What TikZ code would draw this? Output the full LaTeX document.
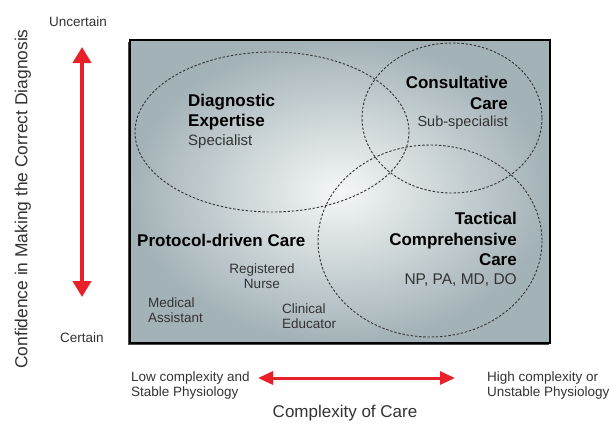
\documentclass[tikz,border=0pt]{standalone}
\usepackage{fontspec}
\setmainfont{Liberation Sans}
\usetikzlibrary{arrows.meta}
\definecolor{axisred}{HTML}{E8202A}
\definecolor{panelout}{HTML}{A3B2B7}
\definecolor{panelin}{HTML}{F4F7F7}
\definecolor{txtgray}{HTML}{333333}
\tikzset{
  zone/.style={draw=black!80, dashed, dash pattern=on 2.4pt off 1.8pt, line width=0.9pt},
  head/.style={font=\fontsize{17}{20.5}\selectfont\bfseries, align=left, inner sep=0pt},
  role/.style={font=\fontsize{13.5}{15}\selectfont, text=txtgray, align=left, inner sep=0pt},
  axis/.style={font=\fontsize{13.5}{15}\selectfont, text=txtgray, align=left, inner sep=0pt},
  redarrow/.style={{Triangle[length=16pt,width=18pt]}-{Triangle[length=16pt,width=18pt]}, line width=4pt, draw=axisred},
}
\begin{document}
\begin{tikzpicture}[x=1pt,y=-1pt]
  \useasboundingbox (0,0) rectangle (612,431);
  % shaded panel with a dark frame
  \fill[black!70] (128,42) rectangle (549,345);
  \shade[inner color=panelin, outer color=panelout] (130,40) rectangle (550,343);
  \draw[line width=1.2pt] (130,40) rectangle (550,343);
  % the three care zones
  \draw[zone] (272,132) ellipse [x radius=137, y radius=80];
  \draw[zone] (452,118) ellipse [x radius=90, y radius=75];
  \draw[zone] (430,241) ellipse [x radius=112, y radius=96];
  % zone labels
  \node[head, anchor=west] (diag) at (188,112) {Diagnostic\\Expertise};
  \node[role, anchor=west, font=\fontsize{15}{16}\selectfont] (spec) at (188,142) {Specialist};
  \node[head, anchor=east, align=right] (cons) at (508,93) {Consultative\\Care};
  \node[role, anchor=east, font=\fontsize{14.5}{16}\selectfont] (sub) at (508,123) {Sub-specialist};
  \node[head, anchor=east, align=right] (tact) at (517,239) {Tactical\\Comprehensive\\Care};
  \node[role, anchor=east, font=\fontsize{15.5}{17}\selectfont] (np) at (517,280) {NP, PA, MD, DO};
  \node[head, anchor=west] (prot) at (137,240) {Protocol-driven Care};
  \node[role, align=center] (rn) at (262,276) {Registered\\Nurse};
  \node[role, anchor=west] (ma) at (148,310) {Medical\\Assistant};
  \node[role, anchor=west] (ce) at (282,316) {Clinical\\Educator};
  % vertical axis
  \node[axis] (unc) at (78,22) {Uncertain};
  \node[axis] (cer) at (82,338) {Certain};
  \draw[redarrow] (82,47) -- (82,297);
  \node[rotate=90, font=\fontsize{17.4}{20}\selectfont, text=txtgray] (conf) at (23,199) {Confidence in Making the Correct Diagnosis};
  % horizontal axis
  \node[axis, anchor=west] (low) at (131,386) {Low complexity and\\Stable Physiology};
  \node[axis, anchor=west] (high) at (487,386) {High complexity or\\Unstable Physiology};
  \draw[redarrow, line width=3pt, {Triangle[length=15pt,width=13pt]}-{Triangle[length=15pt,width=13pt]}] (258,378) -- (455,378);
  \node[font=\fontsize{17}{20}\selectfont, text=txtgray] (cplx) at (345,413) {Complexity of Care};
\end{tikzpicture}
\end{document}
